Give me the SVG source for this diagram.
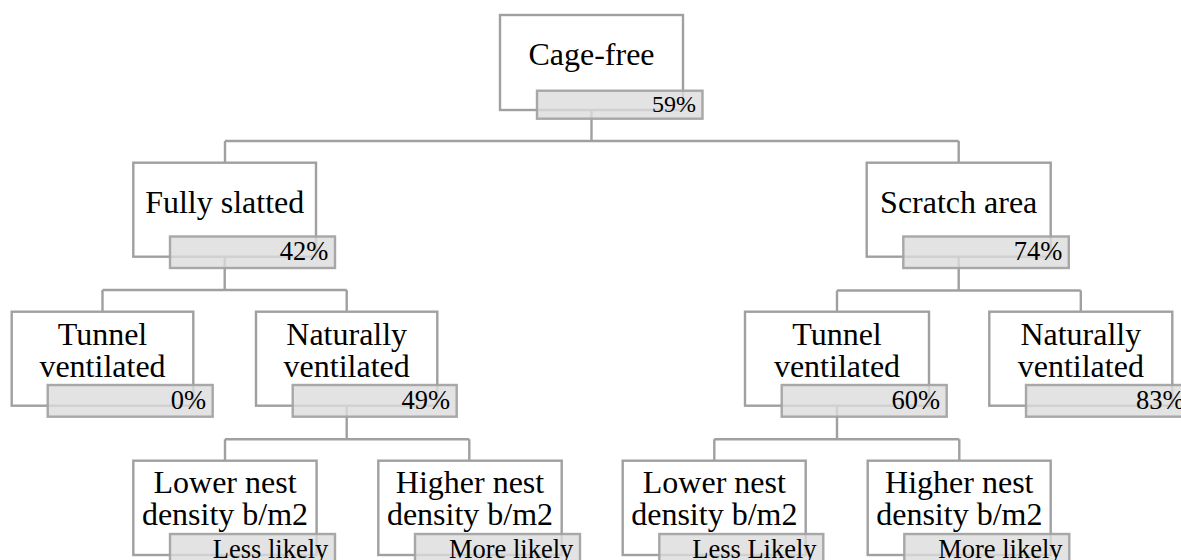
<svg xmlns="http://www.w3.org/2000/svg" width="1181" height="560" viewBox="0 0 1181 560">
<style>
.bg{fill:#ffffff}
.box{fill:#ffffff;stroke:#a0a0a0;stroke-width:2.4}
.lab{fill:#dcdcdc;fill-opacity:0.8;stroke:#a3a3a3;stroke-opacity:0.95;stroke-width:2.4}
.t{font-family:"Liberation Serif","Times New Roman",serif;font-size:32px;fill:#000;text-anchor:middle}
.p{font-family:"Liberation Serif","Times New Roman",serif;font-size:26.5px;fill:#000;text-anchor:end}
.p0{font-size:24px}
.c{fill:none;stroke:#a0a0a0;stroke-width:2.4}
</style>
<rect class="bg" x="0" y="0" width="1181" height="560"/>
<g id="connectors">
<path class="c" d="M591.5 110V141M225 141H958.7M225 141V162.7M958.7 141V162.7"/>
<path class="c" d="M224.7 256.7V290M102.5 290H346.7M102.5 290V311.7M346.7 290V311.7"/>
<path class="c" d="M958.7 256.7V290.5M837 290.5H1080.8M837 290.5V311.7M1080.8 290.5V311.7"/>
<path class="c" d="M346.7 405.7V439.3M225 439.3H469.3M225 439.3V460.7M469.3 439.3V460.7"/>
<path class="c" d="M837 405.7V439.3M714.3 439.3H959.3M714.3 439.3V460.7M959.3 439.3V460.7"/>
</g>
<g id="cage-free">
<rect class="box" x="500" y="15" width="183" height="95"/>
<text class="t" x="591.5" y="65">Cage-free</text>
<rect class="lab" x="537" y="90.7" width="165.5" height="28"/>
<text class="p p0" x="696" y="111.5">59%</text>
</g>
<g id="fully-slatted">
<rect class="box" x="133.3" y="162.7" width="182.7" height="94"/>
<text class="t" x="224.7" y="212.7">Fully slatted</text>
<rect class="lab" x="170" y="236.5" width="165" height="31.5"/>
<text class="p" x="328.3" y="260">42%</text>
</g>
<g id="scratch-area">
<rect class="box" x="866.7" y="162.7" width="184" height="94"/>
<text class="t" x="958.7" y="212.7">Scratch area</text>
<rect class="lab" x="903.3" y="236.5" width="165.5" height="31.5"/>
<text class="p" x="1062.3" y="260">74%</text>
</g>
<g id="tunnel-left">
<rect class="box" x="11.7" y="311.7" width="181.6" height="94"/>
<text class="t" x="102.5" y="345">Tunnel</text>
<text class="t" x="102.5" y="376.7">ventilated</text>
<rect class="lab" x="47.7" y="385" width="165" height="31.7"/>
<text class="p" x="206" y="408.8">0%</text>
</g>
<g id="naturally-left">
<rect class="box" x="256" y="311.7" width="181.3" height="94"/>
<text class="t" x="346.7" y="345">Naturally</text>
<text class="t" x="346.7" y="376.7">ventilated</text>
<rect class="lab" x="292.7" y="385" width="164" height="31.7"/>
<text class="p" x="450" y="408.8">49%</text>
</g>
<g id="tunnel-right">
<rect class="box" x="745" y="311.7" width="184" height="94"/>
<text class="t" x="837" y="345">Tunnel</text>
<text class="t" x="837" y="376.7">ventilated</text>
<rect class="lab" x="781.7" y="385" width="165" height="31.7"/>
<text class="p" x="940" y="408.8">60%</text>
</g>
<g id="naturally-right">
<rect class="box" x="989.3" y="311.7" width="183" height="94"/>
<text class="t" x="1080.8" y="345">Naturally</text>
<text class="t" x="1080.8" y="376.7">ventilated</text>
<rect class="lab" x="1026" y="385" width="165" height="31.7"/>
<text class="p" x="1184.5" y="408.8">83%</text>
</g>
<g id="lower-left">
<rect class="box" x="133.3" y="460.7" width="183.3" height="94.3"/>
<text class="t" x="225" y="493.3">Lower nest</text>
<text class="t" x="225" y="525">density b/m2</text>
<rect class="lab" x="170" y="534" width="165" height="31.7"/>
<text class="p" x="328.3" y="558">Less likely</text>
</g>
<g id="higher-left">
<rect class="box" x="378.3" y="460.7" width="183.4" height="94.3"/>
<text class="t" x="470" y="493.3">Higher nest</text>
<text class="t" x="470" y="525">density b/m2</text>
<rect class="lab" x="415" y="534" width="165" height="31.7"/>
<text class="p" x="573.3" y="558">More likely</text>
</g>
<g id="lower-right">
<rect class="box" x="622.7" y="460.7" width="183" height="94.3"/>
<text class="t" x="714.3" y="493.3">Lower nest</text>
<text class="t" x="714.3" y="525">density b/m2</text>
<rect class="lab" x="659.3" y="534" width="164" height="31.7"/>
<text class="p" x="816.6" y="558">Less Likely</text>
</g>
<g id="higher-right">
<rect class="box" x="867.7" y="460.7" width="183" height="94.3"/>
<text class="t" x="959.3" y="493.3">Higher nest</text>
<text class="t" x="959.3" y="525">density b/m2</text>
<rect class="lab" x="904.3" y="534" width="165" height="31.7"/>
<text class="p" x="1062.6" y="558">More likely</text>
</g>
</svg>
